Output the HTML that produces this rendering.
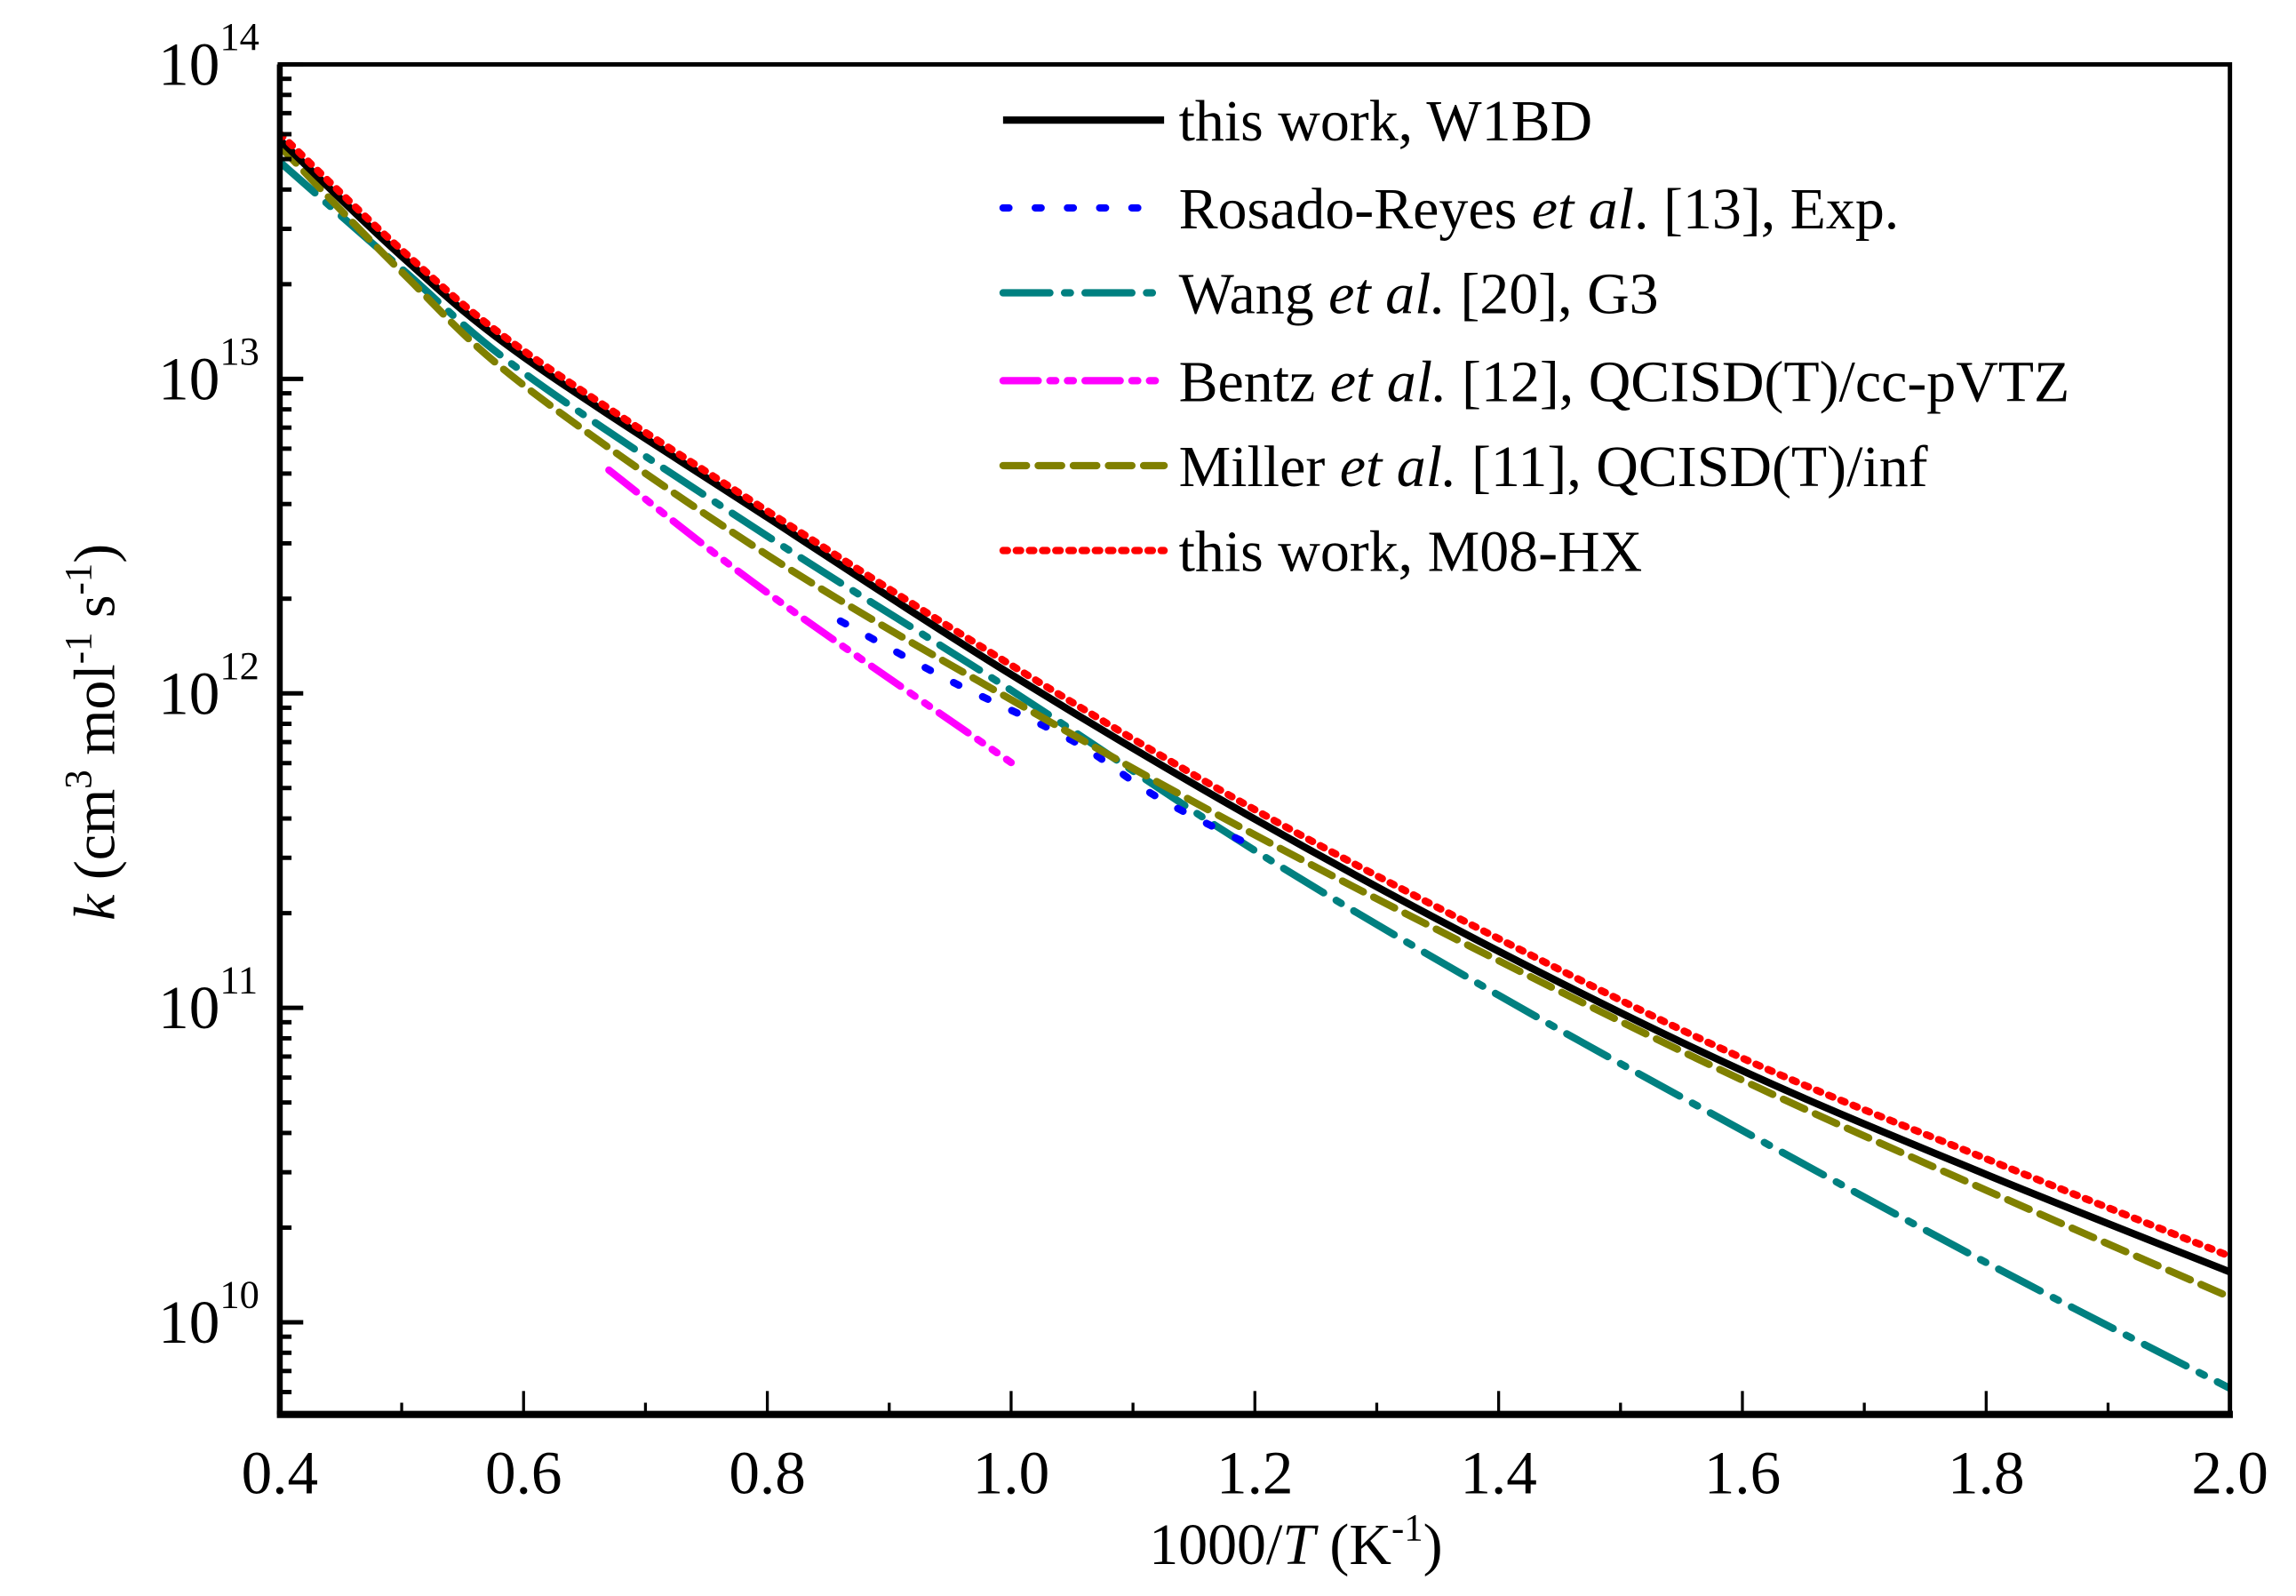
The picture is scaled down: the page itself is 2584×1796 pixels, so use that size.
<!DOCTYPE html>
<html><head><meta charset="utf-8"><style>
html,body{margin:0;padding:0;background:#fff}
svg{display:block}
text{font-family:"Liberation Serif",serif;fill:#000}
</style></head><body>
<svg id="chart" width="2584" height="1796" viewBox="0 0 1568 1090" xmlns="http://www.w3.org/2000/svg">
<g id="plot"></g>
</svg>
<script>
const xTicks=[0.4,0.6,0.8,1.0,1.2,1.4,1.6,1.8,2.0];
const xTickLabels=["0.4","0.6","0.8","1.0","1.2","1.4","1.6","1.8","2.0"];
const yDecades=[10,11,12,13,14];
const w1bdX=[0.4,0.5,0.6,0.8,1.0,1.2,1.4,1.6,1.8,2.0];
const w1bdY=[13.76,13.39,13.07,12.56,12.06,11.6,11.18,10.8,10.47,10.16];
const m08X=[0.4,0.5,0.6,0.8,1.0,1.2,1.4,1.6,1.8,2.0];
const m08Y=[13.78,13.41,13.09,12.58,12.09,11.63,11.22,10.84,10.52,10.21];
const millerX=[0.4,0.5,0.6,0.8,1.0,1.2,1.4,1.6,1.8,2.0];
const millerY=[13.74,13.34,12.98,12.44,11.98,11.55,11.15,10.77,10.42,10.08];
const wangX=[0.4,0.5,0.6,0.8,1.0,1.2,1.4,1.6,1.8,2.0];
const wangY=[13.69,13.35,13.02,12.5,12.01,11.5,11.04,10.61,10.19,9.79];
const rosadoX=[0.86,0.95,1.05,1.12,1.2];
const rosadoY=[12.23,12.04,11.85,11.67,11.51];
const bentzX=[0.67,0.8,1.0];
const bentzY=[12.71,12.32,11.78];

const L=191,R=1523,T=44,B=966;
const xMin=0.4,xMax=2.0,yMin=9.707,yMax=14;
const sx=v=>L+(v-xMin)/(xMax-xMin)*(R-L);
const sy=v=>B-(v-yMin)/(yMax-yMin)*(B-T);
const NS="http://www.w3.org/2000/svg";
const g=document.getElementById('plot');
function mk(tag,attrs,parent){const e=document.createElementNS(NS,tag);for(const k in attrs)e.setAttribute(k,attrs[k]);(parent||g).appendChild(e);return e;}

const defs=mk('defs',{});
const cp=mk('clipPath',{id:'clip'},defs);
mk('rect',{x:L,y:T,width:R-L,height:B-T},cp);

const series=[
 {x:wangX,y:wangY,c:'#008080',d:'32 10 4 10',n:'series-wang-g3'},
 {x:bentzX,y:bentzY,c:'#ff00ff',d:'24 8 4 8 4 8',n:'series-bentz-qcisd'},
 {x:rosadoX,y:rosadoY,c:'#0000ff',d:'4 18',n:'series-rosado-reyes-exp'},
 {x:millerX,y:millerY,c:'#808000',d:'16 8',n:'series-miller-qcisd'},
 {x:w1bdX,y:w1bdY,c:'#000',d:'none',n:'series-this-work-w1bd'},
 {x:m08X,y:m08Y,c:'#ff0000',d:'3 6',n:'series-this-work-m08hx'}
];
const cg=mk('g',{'clip-path':'url(#clip)'});


function pathFor(xs,ys){
 const p=xs.map((v,i)=>[sx(v),sy(ys[i])]);
 let d='M'+p[0][0]+','+p[0][1];
 for(let i=0;i<p.length-1;i++){
  const p0=p[i-1]||p[i],p1=p[i],p2=p[i+1],p3=p[i+2]||p2;
  const c1x=p1[0]+(p2[0]-p0[0])/6,c1y=p1[1]+(p2[1]-p0[1])/6;
  const c2x=p2[0]-(p3[0]-p1[0])/6,c2y=p2[1]-(p3[1]-p1[1])/6;
  d+=' C'+c1x+','+c1y+' '+c2x+','+c2y+' '+p2[0]+','+p2[1];
 }
 return d;
}
series.forEach(s=>{
 const e=mk('path',{d:pathFor(s.x,s.y),fill:'none',stroke:s.c,'stroke-width':5,'stroke-dasharray':s.d,'stroke-linecap':s.d==='none'?'butt':'round'},cg);
 
 
});

const fr=mk('rect',{x:L,y:T,width:R-L,height:B-T,fill:'none',stroke:'#000','stroke-width':3});


mk('line',{x1:L-2,y1:B,x2:R+2,y2:B,stroke:'#000','stroke-width':5});
mk('line',{x1:L,y1:T,x2:L,y2:B,stroke:'#000','stroke-width':4});

for(let i=0;i<=16;i++){
 const v=0.4+i*0.1;const major=i%2===0;
 const t=mk('line',{x1:sx(v),y1:B,x2:sx(v),y2:B-(major?16:8),stroke:'#000','stroke-width':2});
 
 
}
xTicks.forEach((v,i)=>{
 const t=mk('text',{x:sx(v),y:1020,'text-anchor':'middle','font-size':42});
 t.textContent=xTickLabels[i];
 
 
});
yDecades.forEach(d=>{
 const t=mk('line',{x1:L,y1:sy(d),x2:L+16,y2:sy(d),stroke:'#000','stroke-width':3});
 
 
 const lab=mk('text',{x:150,y:sy(d)+14,'text-anchor':'end','font-size':42});
 lab.textContent='10';
 
 
 const sup=mk('text',{x:150,y:sy(d)-10,'text-anchor':'start','font-size':27});
 sup.textContent=String(d);
 
 
});
for(let d=9;d<14;d++){for(let m=2;m<=9;m++){const v=d+Math.log10(m);if(v<yMin)continue;
 const t=mk('line',{x1:L,y1:sy(v),x2:L+8,y2:sy(v),stroke:'#000','stroke-width':3});
 
 }}

const xt=mk('text',{x:885,y:1068,'text-anchor':'middle','font-size':40});
xt.innerHTML='1000/<tspan font-style="italic">T</tspan> (K<tspan dy="-16" font-size="26">-1</tspan><tspan dy="16">)</tspan>';


const yt=mk('text',{x:0,y:0,'text-anchor':'middle','font-size':40,transform:'translate(78,500) rotate(-90)'});
yt.innerHTML='<tspan font-style="italic">k</tspan> (cm<tspan dy="-16" font-size="26">3</tspan><tspan dy="16"> mol</tspan><tspan dy="-16" font-size="26">-1</tspan><tspan dy="16"> s</tspan><tspan dy="-16" font-size="26">-1</tspan><tspan dy="16">)</tspan>';



const leg=[
 ['#000','none','this work, W1BD','legend-w1bd'],
 ['#0000ff','4 18','Rosado-Reyes <tspan font-style="italic">et al</tspan>. [13], Exp.','legend-rosado'],
 ['#008080','32 10 4 10','Wang <tspan font-style="italic">et al.</tspan> [20], G3','legend-wang'],
 ['#ff00ff','24 8 4 8 4 8','Bentz <tspan font-style="italic">et al.</tspan> [12], QCISD(T)/cc-pVTZ','legend-bentz'],
 ['#808000','16 8','Miller <tspan font-style="italic">et al.</tspan> [11], QCISD(T)/inf','legend-miller'],
 ['#ff0000','3 6','this work, M08-HX','legend-m08hx']
];
const legY=[82,142,200,260,318,376];
leg.forEach((l,i)=>{
 const gg=mk('g',{});
 
 
 mk('line',{x1:685,y1:legY[i],x2:795,y2:legY[i],stroke:l[0],'stroke-width':5,'stroke-dasharray':l[1],'stroke-linecap':l[1]==='none'?'butt':'round'},gg);
 const t=mk('text',{x:805,y:legY[i]+14,'font-size':40},gg);
 t.innerHTML=l[2];
});
</script>
</body></html>
